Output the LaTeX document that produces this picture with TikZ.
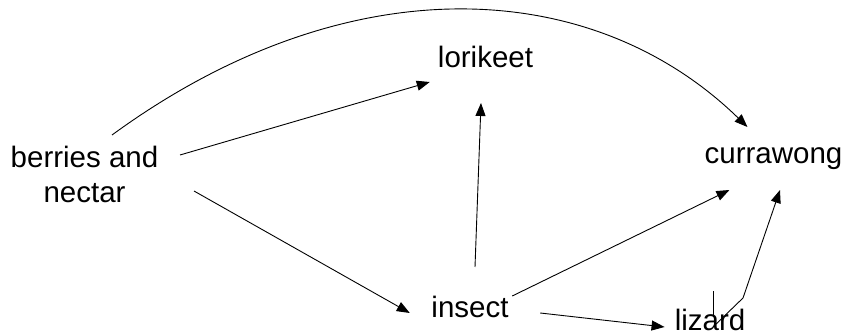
\documentclass[tikz,border=0pt]{standalone}
\usepackage{fontspec}
\setmainfont{Liberation Sans}
\usetikzlibrary{arrows.meta}

\begin{document}
\begin{tikzpicture}[x=1pt, y=1pt,
  lbl/.style={inner sep=0pt, font=\fontsize{29.5}{35}\selectfont},
  feeds/.style={line width=0.9pt, -{Triangle[length=13pt,width=10pt]}}]
  \useasboundingbox (0,0) rectangle (844,335);
  % --- Food web nodes ---
  \node[lbl, align=center] (berries) at (84.5,161) {berries and\\nectar};
  \node[lbl, anchor=base] (lorikeet) at (485.5,267) {lorikeet};
  \node[lbl, anchor=base] (currawong) at (773.5,171) {currawong};
  \node[lbl, anchor=base] (insect) at (470,18) {insect};
  \node[lbl, anchor=base] (lizard) at (710,5) {lizard};
  % --- Feeding links ---
  \draw[feeds] ([shift={(27.5,39)}]berries.center)
    .. controls +(235,171.6) and +(-155,151) ..
    ([shift={(43,37)}]currawong.base west);
  \draw[feeds] ([shift={(95.5,19)}]berries.center) -- ([shift={(-8,-14)}]lorikeet.base west);
  \draw[feeds] ([shift={(109.5,-17)}]berries.center) -- ([shift={(-21.5,4)}]insect.base west);
  \draw[feeds] ([shift={(5,50)}]insect.base) -- ([shift={(-4.5,-35)}]lorikeet.base);
  \draw[feeds] ([shift={(3.5,21)}]insect.base east) -- ([shift={(25,-26)}]currawong.base west);
  \draw[feeds] ([shift={(31.5,4)}]insect.base east) -- ([shift={(-10,3)}]lizard.base west);
  \draw[feeds] ([shift={(3,3)}]lizard.base) -- ([shift={(33,32)}]lizard.base)
    -- ([shift={(6.5,-26)}]currawong.base);
  % --- tick above lizard ---
  \draw[line width=0.9pt] ([shift={(3,13)}]lizard.base) -- ++(0,26);
\end{tikzpicture}
\end{document}
